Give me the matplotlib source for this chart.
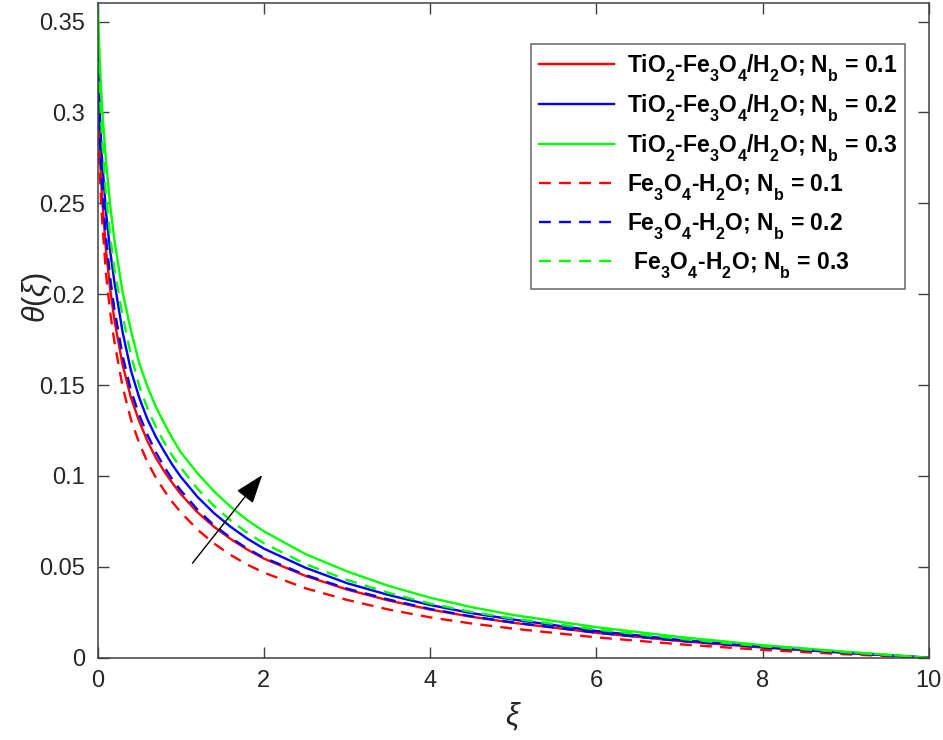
import matplotlib
matplotlib.use("Agg")
import matplotlib.pyplot as plt
import matplotlib._mathtext as mathtext_internal

plt.rcParams["font.family"] = ["Liberation Sans", "DejaVu Sans"]
plt.rcParams["mathtext.fontset"] = "custom"
plt.rcParams["mathtext.rm"] = "Liberation Sans"
plt.rcParams["mathtext.it"] = "Liberation Sans:italic"
plt.rcParams["mathtext.bf"] = "Liberation Sans:bold"
# MATLAB drops its subscripts further below the baseline
mathtext_internal.FontConstantsBase.sub1 = 0.75

# values
xi = [0, 0.025, 0.05, 0.1, 0.15, 0.2, 0.3, 0.4, 0.5, 0.6, 0.7, 0.8, 0.9, 1.0,
      1.2, 1.4, 1.6, 1.8, 2.0, 2.5, 3.0, 3.5, 4, 4.5, 5, 6, 7, 8, 9, 10]

hybrid_nb01 = [0.316, 0.278, 0.255, 0.224, 0.203, 0.186, 0.161, 0.143, 0.130, 0.119, 0.110, 0.1025,
               0.096, 0.090, 0.080, 0.072, 0.0653, 0.0595, 0.0545, 0.045, 0.0375, 0.0315, 0.0265,
               0.0225, 0.0192, 0.0137, 0.0092, 0.0056, 0.0026, 0]
hybrid_nb02 = [0.338, 0.300, 0.276, 0.245, 0.224, 0.207, 0.179, 0.158, 0.143, 0.131, 0.1215, 0.1135,
               0.106, 0.0995, 0.0885, 0.0795, 0.072, 0.0655, 0.060, 0.0495, 0.041, 0.0345, 0.029,
               0.0245, 0.021, 0.0147, 0.0098, 0.006, 0.0028, 0]
hybrid_nb03 = [0.362, 0.328, 0.304, 0.273, 0.249, 0.230, 0.201, 0.180, 0.162, 0.149, 0.138, 0.129,
               0.1205, 0.113, 0.1015, 0.0915, 0.083, 0.0757, 0.0695, 0.057, 0.0475, 0.0395, 0.033,
               0.0278, 0.0235, 0.0168, 0.0114, 0.0069, 0.0033, 0]
mono_nb01 = [0.300, 0.266, 0.243, 0.211, 0.190, 0.174, 0.149, 0.131, 0.118, 0.1075, 0.099, 0.092,
             0.0855, 0.080, 0.0705, 0.0628, 0.0565, 0.0512, 0.0468, 0.0382, 0.0318, 0.0265, 0.0222,
             0.0188, 0.016, 0.0112, 0.0074, 0.0043, 0.0019, 0]
mono_nb02 = [0.330, 0.286, 0.262, 0.231, 0.209, 0.192, 0.166, 0.147, 0.1335, 0.1225, 0.113, 0.105,
             0.098, 0.092, 0.0815, 0.0728, 0.066, 0.060, 0.055, 0.0455, 0.038, 0.032, 0.0268,
             0.0227, 0.0194, 0.0138, 0.0093, 0.0057, 0.0026, 0]
mono_nb03 = [0.350, 0.312, 0.288, 0.254, 0.232, 0.214, 0.188, 0.1665, 0.1495, 0.137, 0.127, 0.1185,
             0.111, 0.1045, 0.093, 0.0835, 0.0755, 0.0687, 0.063, 0.0515, 0.0428, 0.0357, 0.0298,
             0.0252, 0.0215, 0.0155, 0.0104, 0.0063, 0.003, 0]

labels = [
    r"TiO$_\mathbf{2}$-Fe$_\mathbf{3}$O$_\mathbf{4}$/H$_\mathbf{2}$O; N$_\mathbf{b}$ = 0.1",
    r"TiO$_\mathbf{2}$-Fe$_\mathbf{3}$O$_\mathbf{4}$/H$_\mathbf{2}$O; N$_\mathbf{b}$ = 0.2",
    r"TiO$_\mathbf{2}$-Fe$_\mathbf{3}$O$_\mathbf{4}$/H$_\mathbf{2}$O; N$_\mathbf{b}$ = 0.3",
    r"Fe$_\mathbf{3}$O$_\mathbf{4}$-H$_\mathbf{2}$O; N$_\mathbf{b}$ = 0.1",
    r"Fe$_\mathbf{3}$O$_\mathbf{4}$-H$_\mathbf{2}$O; N$_\mathbf{b}$ = 0.2",
    r" Fe$_\mathbf{3}$O$_\mathbf{4}$-H$_\mathbf{2}$O; N$_\mathbf{b}$ = 0.3",
]

xticks = [0, 2, 4, 6, 8, 10]
yticks = [0, 0.05, 0.1, 0.15, 0.2, 0.25, 0.3, 0.35]
ytick_labels = ["0", "0.05", "0.1", "0.15", "0.2", "0.25", "0.3", "0.35"]

arrow_start = (1.14, 0.052)
arrow_end = (1.98, 0.1005)

fig = plt.figure(figsize=(9.43, 7.40), dpi=100)
ax = fig.add_axes([0.1036, 0.1112, 0.8814, 0.8843])

series = [hybrid_nb01, hybrid_nb02, hybrid_nb03, mono_nb01, mono_nb02, mono_nb03]
colors = ["#ff0000", "#0000ff", "#00ff00"] * 2
for i, (ys, lab) in enumerate(zip(series, labels)):
    if i < 3:
        ax.plot(xi, ys, color=colors[i], lw=1.7, label=lab)
    else:
        ax.plot(xi, ys, color=colors[i], lw=1.7, dashes=(5, 3.5), label=lab)

ax.annotate("", xy=arrow_end, xytext=arrow_start,
            arrowprops=dict(arrowstyle="-|>,head_length=0.9,head_width=0.32",
                            color="black", lw=1.0, mutation_scale=20,
                            shrinkA=0, shrinkB=0))

ax.set_xlim(0, 10)
ax.set_ylim(0, 0.36)
ax.set_xticks(xticks)
ax.set_yticks(yticks)
ax.set_yticklabels(ytick_labels)

for s in ax.spines.values():
    s.set_color("#404040")
    s.set_linewidth(1.1)
ax.tick_params(direction="in", length=8, width=1.0, color="#404040",
               labelsize=17, labelcolor="#262626", top=True, right=True, pad=9)

ax.set_xlabel(r"$\xi$", fontsize=22, color="#262626")
ax.set_ylabel(r"$\theta(\xi)$", fontsize=22, color="#262626")
ax.xaxis.set_label_coords(0.5, -0.066)
ax.yaxis.set_label_coords(-0.053, 0.55)

leg = ax.legend(loc="upper left", bbox_to_anchor=(0.521, 0.938), borderaxespad=0,
                prop={"weight": "bold", "size": 16.5}, handlelength=3.3,
                handletextpad=0.55, labelspacing=0.36, borderpad=0.35,
                frameon=True, fancybox=False)
leg.get_frame().set_edgecolor("#404040")
leg.get_frame().set_linewidth(1.1)

fig.savefig("out.png", dpi=100)
